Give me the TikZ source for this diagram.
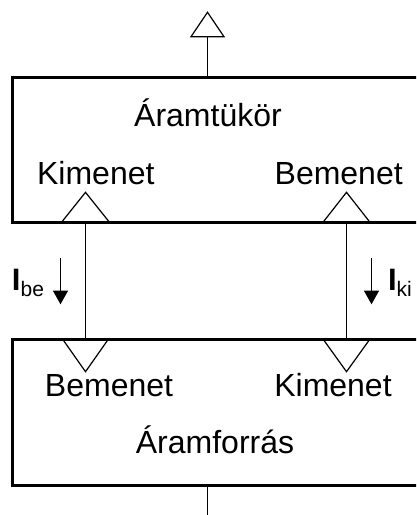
\documentclass[tikz,border=0pt]{standalone}
\usepackage{fontspec}
\setmainfont{Liberation Sans}
\newfontfamily\plainsans{Liberation Sans}
\usetikzlibrary{arrows.meta}
\tikzset{
  blockbox/.style={draw, line width=3pt, inner sep=0pt, outer sep=0pt, anchor=north west, minimum width=413pt},
  lbl/.style={inner sep=0pt, outer sep=0pt, anchor=base, font=\fontsize{32}{36}\selectfont},
  curlbl/.style={inner sep=0pt, outer sep=0pt, anchor=base west},
  thin/.style={line width=1.2pt},
  pin/.style={line width=1.2pt, line join=miter},
  curarrow/.style={line width=1.2pt, -{Triangle[width=15pt,length=13.7pt]}}
}
\newcommand{\curlabel}[1]{{\plainsans\fontsize{31}{31}\selectfont\bfseries I}\raisebox{-6.7pt}{\plainsans\fontsize{21}{21}\selectfont #1}}
\begin{document}
\begin{tikzpicture}[x=1pt,y=-1pt]
\useasboundingbox (0,0) rectangle (416,515);
\clip (0,0) rectangle (416,515);
% boxes
\node[blockbox, minimum height=144.8pt] (mirror) at (12,77.5) {};
\node[blockbox, minimum height=146.5pt] (source) at (12,339) {};
% texts
\node[lbl] (mirrorname) at (208,126.7) {Áramtükör};
\node[lbl] (mirrorout) at (95.8,184.5) {Kimenet};
\node[lbl] (mirrorin) at (338.7,184.5) {Bemenet};
\node[lbl] (sourcein) at (109,396.7) {Bemenet};
\node[lbl] (sourceout) at (333,396.7) {Kimenet};
\node[lbl] (sourcename) at (215,453) {Áramforrás};
% top output terminal
\draw[pin] (191,36.7) -- (207.5,12.3) -- (224,36.7) -- cycle;
\coordinate (topout) at (207.5,36.7);
\draw[thin] (topout) -- (topout |- mirror.north);
% mirror terminals (up triangles)
\draw[pin] (61.5,222.3) -- (85.5,192.3) -- (109.5,222.3);
\draw[pin] (323,222.3) -- (346.5,192.3) -- (370,222.3);
% source terminals (down triangles)
\draw[pin] (62.5,339) -- (85.5,371.7) -- (108.5,339);
\draw[pin] (323,339) -- (346.5,371.7) -- (370,339);
% connectors
\coordinate (mkout) at (85.5,222.3);
\coordinate (mbin) at (346.5,222.3);
\draw[thin] (mkout) -- (mkout |- source.north);
\draw[thin] (mbin) -- (mbin |- source.north);
% bottom connector
\coordinate (botend) at (207.5,520);
\draw[thin] (botend |- source.south) -- (botend);
% current arrows
\coordinate (abeS) at (60.5,258.3);
\coordinate (abeE) at (60.5,304.3);
\coordinate (akiS) at (371.5,258.3);
\coordinate (akiE) at (371.5,304.3);
\draw[curarrow] (abeS) -- (abeE);
\draw[curarrow] (akiS) -- (akiE);
\node[curlbl] (ibe) at (12,290) {\curlabel{be}};
\node[curlbl] (iki) at (388,290) {\curlabel{ki}};
\end{tikzpicture}
\end{document}
